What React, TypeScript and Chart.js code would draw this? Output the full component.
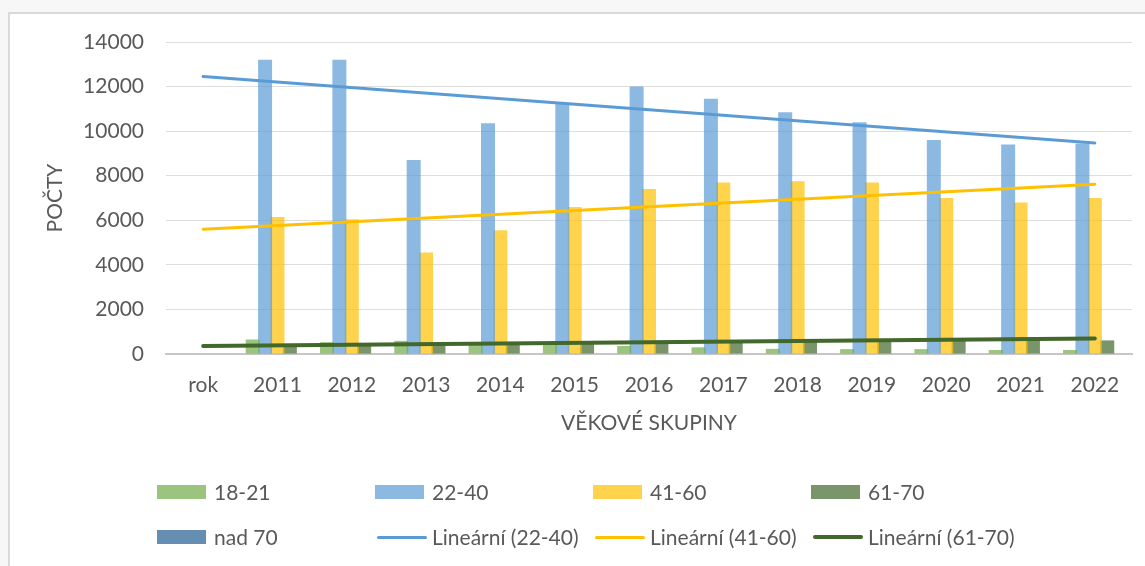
import React, { useEffect, useRef } from 'react';
import { Chart, registerables } from 'chart.js';

Chart.register(...registerables);

const categories = ['rok', '2011', '2012', '2013', '2014', '2015', '2016', '2017', '2018', '2019', '2020', '2021', '2022'];

const s18_21 = [null, 650, 530, 590, 420, 400, 360, 300, 230, 220, 220, 180, 180];
const s22_40 = [null, 13200, 13200, 8700, 10350, 11250, 12000, 11450, 10850, 10400, 9600, 9400, 9450];
const s41_60 = [null, 6150, 6050, 4550, 5550, 6600, 7400, 7700, 7750, 7700, 7000, 6800, 7000];
const s61_70 = [null, 380, 380, 370, 450, 470, 520, 540, 560, 600, 640, 590, 610];
const sNad70 = [null, 0, 0, 0, 0, 0, 0, 0, 0, 0, 0, 0, 0];

const trend22_40 = [12450, null, null, null, null, null, null, null, null, null, null, null, 9470];
const trend41_60 = [5600, null, null, null, null, null, null, null, null, null, null, null, 7620];
const trend61_70 = [360, null, null, null, null, null, null, null, null, null, null, null, 700];

const yTicks = [0, 2000, 4000, 6000, 8000, 10000, 12000, 14000];

const FONT = "Lato, 'Open Sans', sans-serif";
const TEXT = '#595959';

const barSeries = [
  { label: '18-21', data: s18_21, color: 'rgba(112,173,71,0.7)' },
  { label: '22-40', data: s22_40, color: 'rgba(91,155,213,0.7)' },
  { label: '41-60', data: s41_60, color: 'rgba(255,192,0,0.7)' },
  { label: '61-70', data: s61_70, color: 'rgba(67,104,43,0.7)' },
  { label: 'nad 70', data: sNad70, color: 'rgba(37,94,145,0.7)' },
];

const lineSeries = [
  { label: 'Lineární (22-40)', data: trend22_40, color: '#5B9BD5', width: 3 },
  { label: 'Lineární (41-60)', data: trend41_60, color: '#FFC000', width: 3 },
  { label: 'Lineární (61-70)', data: trend61_70, color: '#43682B', width: 4 },
];

const legendCols = [157, 375, 593, 811];
const legendRows = [492, 537];

export default function App() {
  const ref = useRef<HTMLCanvasElement | null>(null);

  useEffect(() => {
    if (!ref.current) return;
    const chart = new Chart(ref.current, {
      type: 'bar',
      data: {
        labels: categories,
        datasets: [
          ...lineSeries.map((s) => ({
            type: 'line' as const,
            label: s.label,
            data: s.data,
            borderColor: s.color,
            backgroundColor: s.color,
            borderWidth: s.width,
            pointRadius: 0,
            spanGaps: true,
            order: 0,
            borderCapStyle: 'round' as const,
          })),
          ...barSeries.map((s) => ({
            type: 'bar' as const,
            label: s.label,
            data: s.data,
            backgroundColor: s.color,
            borderWidth: 0,
            categoryPercentage: 0.834,
            barPercentage: 1.13,
            order: 1,
          })),
        ],
      },
      options: {
        responsive: false,
        animation: false,
        devicePixelRatio: 1,
        layout: { padding: { left: 0, right: 13, top: 42, bottom: 112 } },
        plugins: {
          legend: { display: false },
          tooltip: { enabled: false },
        },
        scales: {
          x: {
            offset: true,
            grid: { display: false, drawTicks: false },
            border: { display: true, color: '#c6c6c6', width: 2 },
            ticks: { color: TEXT, font: { family: FONT, size: 21 }, padding: 19, maxRotation: 0, autoSkip: false },
            title: {
              display: true,
              text: 'VĚKOVÉ SKUPINY',
              color: TEXT,
              font: { family: FONT, size: 21 },
              padding: { top: 0, bottom: 18 },
            },
            afterFit: (s: any) => {
              s.height = 100;
            },
          },
          y: {
            min: 0,
            max: 14000,
            afterBuildTicks: (s: any) => {
              s.ticks = yTicks.map((v) => ({ value: v }));
            },
            grid: {
              color: (c: any) => (c.tick && c.tick.value === 0 ? 'rgba(0,0,0,0)' : '#dedede'),
              lineWidth: 1,
              drawTicks: false,
            },
            border: { display: false },
            ticks: {
              color: TEXT,
              font: { family: FONT, size: 21 },
              padding: 22,
              callback: (v: any) => String(v),
            },
            title: {
              display: true,
              text: 'POČTY',
              color: TEXT,
              font: { family: FONT, size: 21 },
              padding: { top: 43, bottom: 0 },
            },
            afterFit: (s: any) => {
              s.width = 166;
            },
          },
        },
      },
    });
    return () => chart.destroy();
  }, []);

  const legendItems = [
    ...barSeries.map((s) => ({ label: s.label, color: s.color, kind: 'box', width: 0 })),
    ...lineSeries.map((s) => ({ label: s.label, color: s.color, kind: 'line', width: s.width })),
  ];

  return (
    <div style={{ position: 'absolute', left: 0, top: 0, width: 1145, height: 566, background: '#f7f7f7', overflow: 'hidden' }}>
      <div
        style={{
          position: 'absolute',
          left: 8,
          top: 12,
          width: 1160,
          height: 580,
          background: '#ffffff',
          borderLeft: '2px solid #d9d9d9',
          borderTop: '2px solid #d9d9d9',
        }}
      />
      <canvas ref={ref} width={1145} height={566} style={{ position: 'absolute', left: 0, top: 0, width: 1145, height: 566 }} />
      {legendItems.map((it, i) => {
        const col = legendCols[i % 4];
        const rowY = legendRows[Math.floor(i / 4)];
        return (
          <div key={it.label} style={{ position: 'absolute', left: col, top: rowY - 14, height: 28, width: 215 }}>
            {it.kind === 'box' ? (
              <div style={{ position: 'absolute', left: 0, top: 7, width: 49, height: 14, background: it.color }} />
            ) : (
              <div style={{ position: 'absolute', left: 2, top: 14 - it.width / 2, width: 50, height: it.width, background: it.color, borderRadius: 2 }} />
            )}
            <div
              style={{
                position: 'absolute',
                left: 57,
                top: 0,
                lineHeight: '28px',
                fontFamily: FONT,
                fontSize: 21,
                color: TEXT,
                whiteSpace: 'nowrap',
              }}
            >
              {it.label}
            </div>
          </div>
        );
      })}
    </div>
  );
}
